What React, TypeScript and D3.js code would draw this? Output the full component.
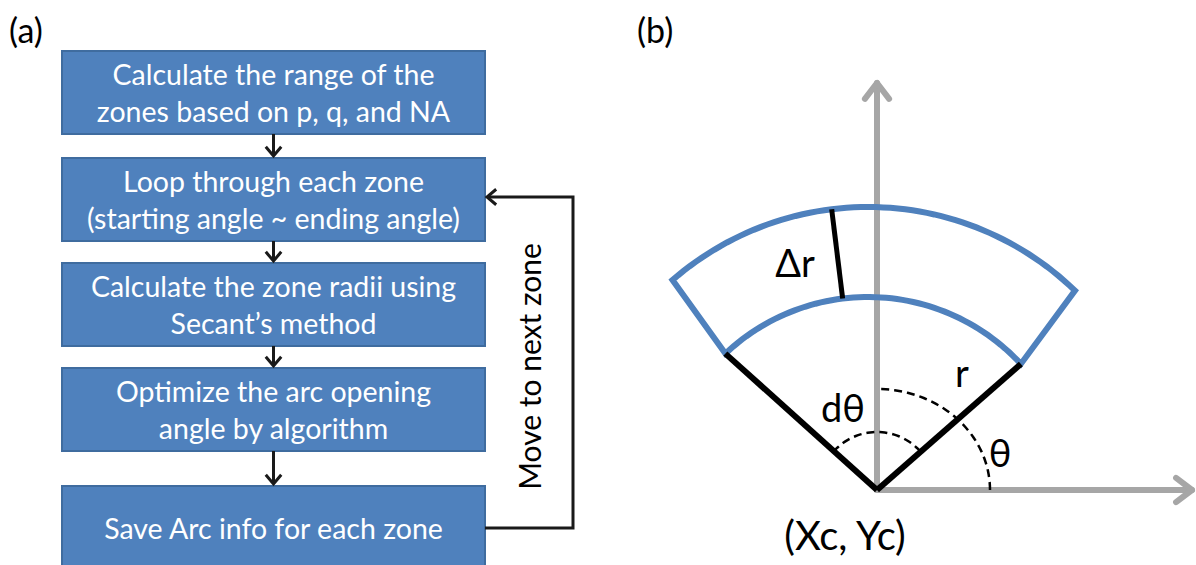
import * as d3 from 'd3'

// flowchart content
const steps: string[][] = [
  ['Calculate the range of the', 'zones based on p, q, and NA'],
  ['Loop through each zone', '(starting angle ~ ending angle)'],
  ['Calculate the zone radii using', 'Secant’s method'],
  ['Optimize the arc opening', 'angle by algorithm'],
  ['Save Arc info for each zone'],
]
const loopLabel = 'Move to next zone'
const panelLabels = ['(a)', '(b)']

// polar diagram, in diagram units (1 unit = radius scale step)
const axisEnds = [3.15, 4.07] // x axis, y axis
const sectorCenter = [-0.09, -0.15]
const sectorRadii = [2.08, 2.98] // inner, outer
const innerAngles = [42.7, 133.3]
const outerAngles = [46, 131]
const deltaRAngle = 97
const dThetaRadius = 0.58
const thetaArcRadii = [1.13, 1.01] // rx, ry
const diagramLabels = ['Δr', 'r', 'dθ', 'θ', '(Xc, Yc)']
const labelX = [-0.82, 0.85, -0.34, 1.23, -0.32]
const labelY = [2.28, 1.18, 0.83, 0.38, -0.45]

const FONT = 'Lato, "Open Sans", sans-serif'
const BLUE = '#4F81BD'
const BORDER = '#3F6C9F'
const GRAY = '#A6A6A6'

const W = 1196
const H = 565

function chevron(tx: number, ty: number, dir: number, len: number, spread: number) {
  // dir: direction the arrow points, in radians (screen coords)
  const a1 = dir + Math.PI - spread
  const a2 = dir + Math.PI + spread
  return `M${tx + len * Math.cos(a1)},${ty + len * Math.sin(a1)}L${tx},${ty}L${tx + len * Math.cos(a2)},${ty + len * Math.sin(a2)}`
}

function Flowchart() {
  const boxX = d3.scaleLinear().domain([0, 1]).range([62, 485])
  const tops = [51, 158, 263, 368, 486]
  const boxH = 83
  const cx = boxX(0.5)
  const lineGap = 37
  const loopX = 573
  const loopTop = tops[1] + 39
  const loopBottom = tops[4] + 42

  return (
    <g>
      {steps.map((lines, i) => (
        <g key={i}>
          <rect x={boxX(0)} y={tops[i]} width={boxX(1) - boxX(0)} height={boxH}
            fill={BLUE} stroke={BORDER} strokeWidth={2} />
          {lines.map((t, j) => (
            <text key={j} x={cx} y={tops[i] + boxH / 2 + (j - (lines.length - 1) / 2) * lineGap}
              textAnchor="middle" dominantBaseline="central" fill="#fff"
              fontFamily={FONT} fontSize={28.5}>{t}</text>
          ))}
        </g>
      ))}
      {tops.slice(0, -1).map((t, i) => (
        <g key={i} stroke="#1a1a1a" strokeWidth={3} fill="none">
          <line x1={cx} x2={cx} y1={t + boxH} y2={tops[i + 1] - 2} />
          <path d={chevron(cx, tops[i + 1] - 2, Math.PI / 2, 12, 0.7)} />
        </g>
      ))}
      <g stroke="#1a1a1a" strokeWidth={3} fill="none">
        <path d={`M${boxX(1)},${loopBottom}H${loopX}V${loopTop}H${boxX(1) + 2}`} />
        <path d={chevron(boxX(1) + 2, loopTop, Math.PI, 12, 0.7)} />
      </g>
      <text transform={`translate(${loopX - 44},${(loopTop + loopBottom) / 2 + 4}) rotate(-90)`}
        textAnchor="middle" dominantBaseline="central" fill="#000"
        fontFamily={FONT} fontSize={30}>{loopLabel}</text>
    </g>
  )
}

function PolarDiagram() {
  const x = d3.scaleLinear().domain([0, 1]).range([877, 977])
  const y = d3.scaleLinear().domain([0, 1]).range([490, 390])
  const k = x(1) - x(0)
  const rad = (deg: number) => (deg * Math.PI) / 180
  const pt = (c: number[], r: number, deg: number): [number, number] =>
    [x(c[0] + r * Math.cos(rad(deg))), y(c[1] + r * Math.sin(rad(deg)))]

  // sector outline: outer arc, side, inner arc, side
  const arcPts = (r: number, angs: number[]) =>
    d3.range(0, 61).map(i => pt(sectorCenter, r, angs[0] + (angs[1] - angs[0]) * i / 60))
  const outer = arcPts(sectorRadii[1], outerAngles)
  const inner = arcPts(sectorRadii[0], innerAngles).reverse()
  const sectorLine = d3.line()
  const innerL = pt(sectorCenter, sectorRadii[0], innerAngles[1])
  const innerR = pt(sectorCenter, sectorRadii[0], innerAngles[0])
  const origin: [number, number] = [x(0), y(0)]

  const angL = Math.atan2(-(innerL[1] - origin[1]), innerL[0] - origin[0]) * 180 / Math.PI
  const angR = Math.atan2(-(innerR[1] - origin[1]), innerR[0] - origin[0]) * 180 / Math.PI
  const dTheta = d3.range(0, 41).map(i => pt([0, 0], dThetaRadius, angR + (angL - angR) * i / 40))
  const thetaArc = d3.range(0, 41).map(i => {
    const a = rad(90 * i / 40)
    return [x(thetaArcRadii[0] * Math.cos(a)), y(thetaArcRadii[1] * Math.sin(a))] as [number, number]
  })
  const dr0 = pt(sectorCenter, sectorRadii[0], deltaRAngle)
  const dr1 = pt(sectorCenter, sectorRadii[1], deltaRAngle)
  const xEnd = x(axisEnds[0])
  const yEnd = y(axisEnds[1])

  return (
    <g>
      <g stroke={GRAY} strokeWidth={6} fill="none" strokeLinecap="round" strokeLinejoin="round">
        <line x1={origin[0]} y1={origin[1]} x2={origin[0]} y2={yEnd} />
        <path d={chevron(origin[0], yEnd, -Math.PI / 2, 0.2 * k, 0.65)} />
        <line x1={origin[0]} y1={origin[1]} x2={xEnd} y2={origin[1]} />
        <path d={chevron(xEnd, origin[1], 0, 0.2 * k, 0.65)} />
      </g>
      <path d={sectorLine([...outer, ...inner]) + 'Z'} fill="none" stroke={BLUE} strokeWidth={6} />
      <g stroke="#000" strokeWidth={6} strokeLinecap="butt">
        <line x1={origin[0]} y1={origin[1]} x2={innerL[0]} y2={innerL[1]} />
        <line x1={origin[0]} y1={origin[1]} x2={innerR[0]} y2={innerR[1]} />
        <line x1={dr0[0]} y1={dr0[1]} x2={dr1[0]} y2={dr1[1]} strokeWidth={5} />
      </g>
      <g stroke="#000" strokeWidth={2.5} fill="none" strokeDasharray="8 5">
        <path d={d3.line()(dTheta) ?? ''} />
        <path d={d3.line()(thetaArc) ?? ''} />
      </g>
      {diagramLabels.map((t, i) => (
        <text key={t} x={x(labelX[i])} y={y(labelY[i])} textAnchor="middle" dominantBaseline="central"
          fontFamily={FONT} fontSize={i === 4 ? 40 : 38} fill="#000">{t}</text>
      ))}
    </g>
  )
}

export default function App() {
  return (
    <div style={{ position: 'fixed', left: 0, top: 0, background: '#fff' }}>
      <svg width={W} height={H} style={{ display: 'block' }}>
        <rect width={W} height={H} fill="#fff" />
        <text x={9} y={29} dominantBaseline="central" fontFamily={FONT} fontSize={34}>{panelLabels[0]}</text>
        <text x={637} y={29} dominantBaseline="central" fontFamily={FONT} fontSize={34}>{panelLabels[1]}</text>
        <Flowchart />
        <PolarDiagram />
      </svg>
    </div>
  )
}
